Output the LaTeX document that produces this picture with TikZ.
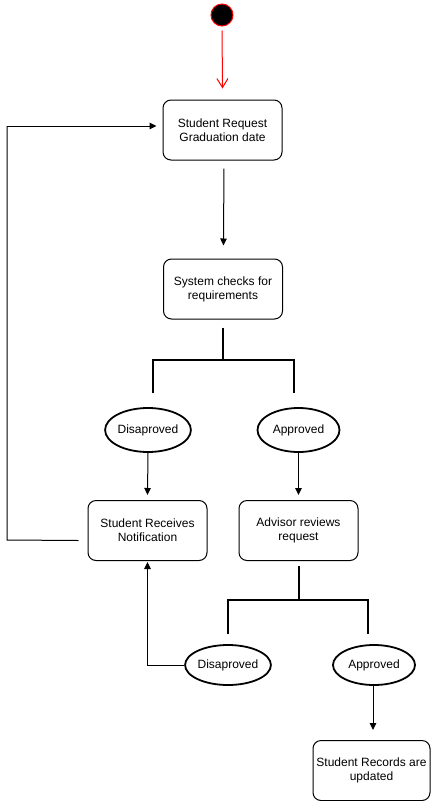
\documentclass[tikz,border=0pt]{standalone}
\usepackage{fontspec}
\setmainfont{Liberation Sans}
\usetikzlibrary{arrows.meta,shapes.geometric}
\begin{document}
\begin{tikzpicture}[x=1pt,y=-1pt,
  box/.style={draw,line width=1pt,rounded corners=8pt,minimum width=119pt,minimum height=60pt,inner sep=0pt,align=center,font=\fontsize{12}{14}\selectfont},
  oval/.style={draw,ellipse,line width=1.8pt,minimum width=82pt,minimum height=44pt,inner sep=0pt,font=\fontsize{12}{14}\selectfont},
  arr/.style={line width=1pt,-{Triangle[width=6.5pt,length=7pt]}},
  fork/.style={line width=2pt},
  startarr/.style={red,line width=1pt,-{Straight Barb[length=9pt,width=11pt]}}
]
\useasboundingbox (0,0) rectangle (434,801);
\node[circle,fill=black,draw=red,line width=1pt,minimum size=22pt,inner sep=0pt] (s) at (222,15) {};
\node[box] (b1) at (222.5,130) {Student Request\\Graduation date};
\node[box] (b2) at (223,289) {System checks for\\requirements};
\node[oval] (d1) at (148,430) {Disaproved};
\node[oval] (a1) at (298.5,430) {Approved};
\node[box] (n) at (147.5,530.5) {Student Receives\\Notification};
\node[box] (adv) at (298.5,530.5) {Advisor reviews\\request};
\node[oval,minimum height=40pt] (d2) at (228,665) {Disaproved};
\node[oval,minimum height=40pt] (a2) at (374,665) {Approved};
\node[box,minimum width=117pt] (r) at (371.5,770.5) {Student Records are\\updated};

\draw[startarr,shorten <=4pt] (s.south) -- ([yshift=11pt]b1.north);
\draw[arr,shorten <=8pt] ([xshift=1.5pt]b1.south) -- ([shift={(0.5pt,13pt)}]b2.north);

\coordinate (f1) at (223,360);
\draw[fork,shorten <=8pt] (b2.south) -- (f1);
\draw[fork] ([shift={(5pt,14pt)}]d1.north) |- (f1) -| ([shift={(-5pt,14pt)}]a1.north);

\draw[arr] (d1.south) -- ([yshift=5pt]n.north);
\draw[arr] (a1.south) -- ([yshift=5pt]adv.north);

\coordinate (c1) at (7,540);
\coordinate (c2) at (7,126);
\draw[line width=1pt] ([shift={(-9pt,-10pt)}]n.west) -- (c1) -- (c2);
\draw[arr] (c2) -- ([shift={(-6pt,4pt)}]b1.west);

\coordinate (f2) at (298.5,600);
\draw[fork,shorten <=5pt] (adv.south) -- (f2);
\draw[fork] ([yshift=10pt]d2.north) |- (f2) -| ([shift={(-6pt,10pt)}]a2.north);

\draw[arr,shorten >=1pt] (d2.west) -| (n.south);
\draw[arr] ([xshift=-1pt]a2.south) -- ([shift={(1.5pt,10pt)}]r.north);
\end{tikzpicture}
\end{document}
